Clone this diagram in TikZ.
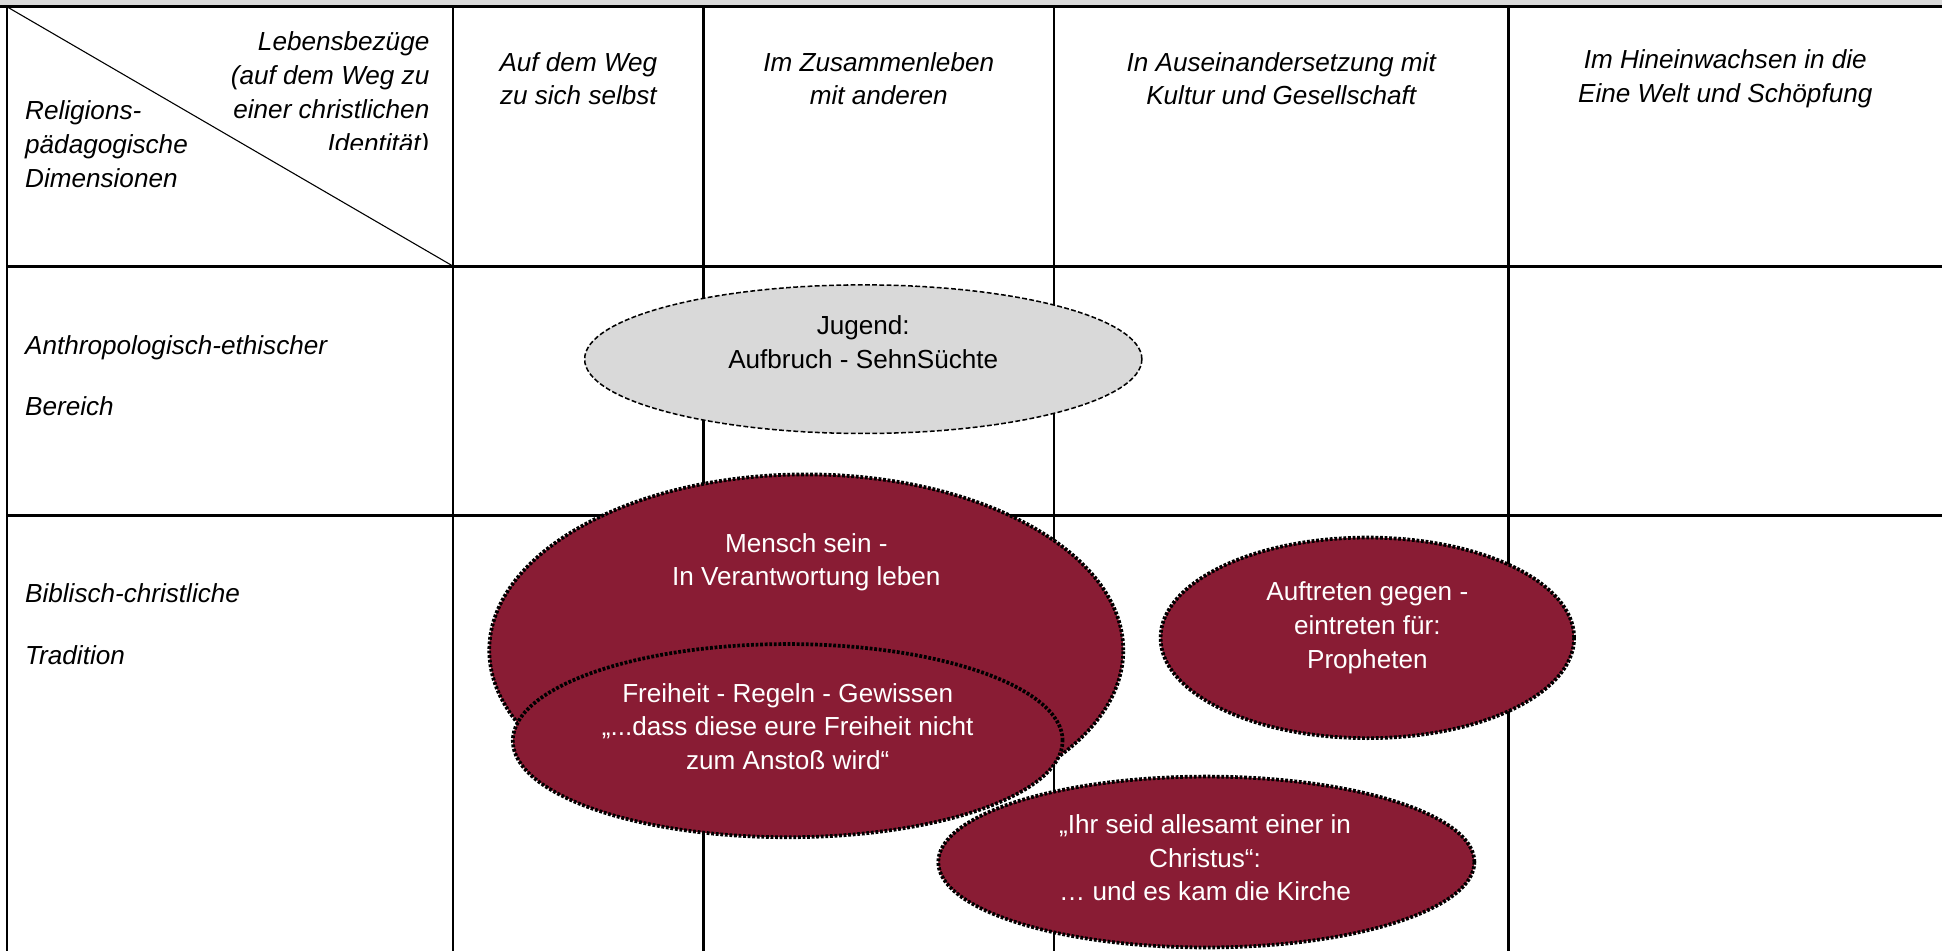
\documentclass[tikz,border=0pt]{standalone}
\usepackage{fontspec}
\setmainfont{Liberation Sans}
\usepackage{tikz}
\usetikzlibrary{shapes.geometric}

\definecolor{bordeaux}{RGB}{137,28,52}
\definecolor{cellgray}{RGB}{217,217,217}
\newcommand{\tabfont}{\fontsize{12pt}{15.5pt}\selectfont}

\tikzset{
  outerrule/.style={line width=1.2pt},
  colrule/.style={line width=1pt},
  redblob/.style={ellipse, fill=bordeaux, draw=black, line width=1.7pt,
    dash pattern=on 1.3pt off 0.8pt},
  grayblob/.style={ellipse, fill=cellgray, draw=black, line width=0.7pt,
    dash pattern=on 2.2pt off 1.1pt},
  blobtext/.style={align=center, text=white, font=\tabfont},
  headtext/.style={align=center, font=\tabfont\itshape}
}

\begin{document}
\begin{tikzpicture}[
  % one unit is one pixel of the 1568 x 768 sheet
  x=0.02cm,
  % rows are counted downward from the top edge
  y=-0.02cm
]
\useasboundingbox (0,0) rectangle (1568,768);

% 1) Gray band above the table
\fill[cellgray] (0,0) rectangle (1568,5.4);

% 2) Table rules: top, rows, left border
\draw[outerrule] (0,5.4) -- (1568,5.4);
\draw[outerrule] (5.5,215) -- (1568,215);
\draw[outerrule] (5.5,416) -- (1568,416);
\draw[outerrule] (5.5,5.4) -- (5.5,768);

% 3) Column rules
\draw[colrule] (366,5.4) -- (366,768);
\draw[colrule] (568,5.4) -- (568,768);
\draw[colrule] (851,5.4) -- (851,768);
\draw[colrule] (1218,5.4) -- (1218,768);

% Diagonal of the corner cell
\draw[line width=0.5pt] (5.5,5.4) -- (366,215);

% 4) Corner cell labels (the right one is cut at its last line)
\begin{scope}
  \clip (5.5,5.4) rectangle (366,121);
  \node[headtext, align=right, anchor=east, inner sep=0pt] (lebens) at (347,76.5)
    {Lebensbezüge\\(auf dem Weg zu\\einer christlichen\\Identität)};
\end{scope}
\node[headtext, align=left, anchor=west, inner sep=0pt] (religion) at (20,116.5)
  {Religions-\\pädagogische\\Dimensionen};

% 5) Column headers
\node[headtext] (weg) at (467,63.5) {Auf dem Weg\\zu sich selbst};
\node[headtext] (zusammen) at (709.5,63.5) {Im Zusammenleben\\mit anderen};
\node[headtext] (kultur) at (1034.5,63.5) {In Auseinandersetzung mit\\Kultur und Gesellschaft};
\node[headtext] (welt) at (1393,63.5) {Im Hineinwachsen in die\\Eine Welt und Schöpfung};

% 6) Row headers
\node[headtext, align=left, anchor=west, inner sep=0pt] (anthro) at (20,303.3)
  {Anthropologisch-ethischer\\[12.9pt]Bereich};
\node[headtext, align=left, anchor=west, inner sep=0pt] (biblisch) at (20,504)
  {Biblisch-christliche\\[12.9pt]Tradition};

% 7) Topic ellipses, drawn over the rules
\node[grayblob, minimum width=9cm, minimum height=2.4cm] (jugend) at (697,290) {};
\node[redblob, minimum width=10.24cm, minimum height=5.68cm] (mensch) at (651,525) {};
\node[redblob, minimum width=8.88cm, minimum height=3.12cm] (freiheit) at (636,598) {};
\node[redblob, minimum width=6.68cm, minimum height=3.24cm] (auftreten) at (1104,515) {};
\node[redblob, minimum width=8.66cm, minimum height=2.76cm] (kirche) at (974,696) {};

% Ellipse texts
\node[blobtext, text=black] (jugendtext) at (697,276.5) {Jugend:\\Aufbruch - SehnSüchte};
\node[blobtext] (menschtext) at (651,454) {Mensch sein -\\In Verantwortung leben};
\node[blobtext] (freiheittext) at (636,586.5)
  {Freiheit - Regeln - Gewissen\\„...dass diese eure Freiheit nicht\\zum Anstoß wird“};
\node[blobtext] (auftretentext) at (1104,507) {Auftreten gegen -\\eintreten für:\\Propheten};
\node[blobtext] (kirchetext) at (973,692.5)
  {„Ihr seid allesamt einer in\\Christus“:\\… und es kam die Kirche};

\end{tikzpicture}
\end{document}
